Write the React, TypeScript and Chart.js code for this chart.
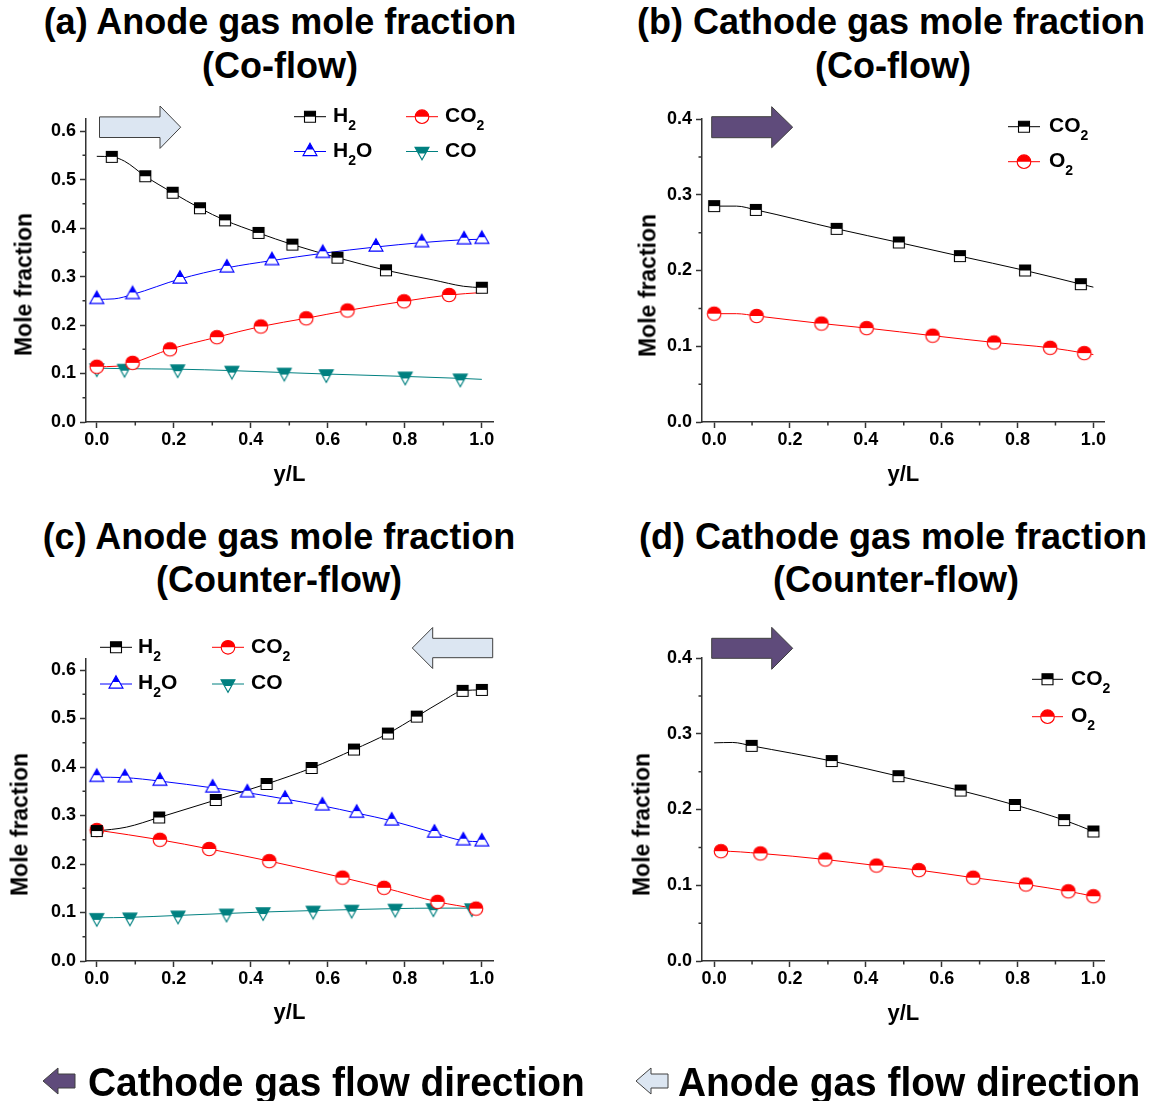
import React, { useEffect, useRef } from 'react';
import { Chart, registerables } from 'chart.js';

Chart.register(...registerables);

type Pt = [number, number];
type Shape = 'square' | 'circle' | 'triUp' | 'triDown';

const FONT = '"Liberation Sans", Arial, Helvetica, sans-serif';
const AXIS = '#333333';

// ---------- tick values ----------
const xTickValues = [0, 0.2, 0.4, 0.6, 0.8, 1.0];
const xMinorValues = [0.1, 0.3, 0.5, 0.7, 0.9];
const anodeYTickValues = [0, 0.1, 0.2, 0.3, 0.4, 0.5, 0.6];
const anodeYMinorValues = [0.05, 0.15, 0.25, 0.35, 0.45, 0.55];
const cathodeYTickValues = [0, 0.1, 0.2, 0.3, 0.4];
const cathodeYMinorValues = [0.05, 0.15, 0.25, 0.35];

// ---------- (a) anode, co-flow ----------
const coAnodeH2Marks: Pt[] = [[0.039, 0.547], [0.126, 0.507], [0.197, 0.473], [0.268, 0.441], [0.333, 0.416], [0.42, 0.39], [0.508, 0.366], [0.625, 0.339], [0.751, 0.313], [1.0, 0.277]];
const coAnodeH2Extra: Pt[] = [[0, 0.548], [0.072, 0.538], [0.874, 0.293], [0.952, 0.28]];
const coAnodeH2OMarks: Pt[] = [[0, 0.253], [0.093, 0.263], [0.216, 0.295], [0.338, 0.318], [0.455, 0.333], [0.587, 0.348], [0.725, 0.361], [0.844, 0.37], [0.954, 0.376], [1.0, 0.377]];
const coAnodeH2OExtra: Pt[] = [[0.045, 0.254]];
const coAnodeCO2Marks: Pt[] = [[0, 0.114], [0.093, 0.122], [0.19, 0.15], [0.312, 0.175], [0.426, 0.197], [0.544, 0.214], [0.651, 0.23], [0.798, 0.249], [0.915, 0.262]];
const coAnodeCO2Extra: Pt[] = [[0.05, 0.115], [1.0, 0.267]];
const coAnodeCOMarks: Pt[] = [[0, 0.111], [0.072, 0.11], [0.21, 0.109], [0.351, 0.106], [0.487, 0.102], [0.596, 0.099], [0.801, 0.094], [0.944, 0.09]];
const coAnodeCOExtra: Pt[] = [[1.0, 0.088]];

// ---------- (b) cathode, co-flow ----------
const coCathodeCO2Marks: Pt[] = [[0, 0.285], [0.11, 0.28], [0.323, 0.255], [0.487, 0.237], [0.648, 0.219], [0.82, 0.2], [0.967, 0.182]];
const coCathodeCO2Extra: Pt[] = [[0.059, 0.285], [1.0, 0.178]];
const coCathodeO2Marks: Pt[] = [[0, 0.143], [0.112, 0.14], [0.283, 0.13], [0.402, 0.124], [0.576, 0.114], [0.738, 0.105], [0.886, 0.098], [0.976, 0.091]];
const coCathodeO2Extra: Pt[] = [[0.059, 0.143], [1.0, 0.089]];

// ---------- (c) anode, counter-flow ----------
const ctAnodeH2Marks: Pt[] = [[0, 0.268], [0.162, 0.296], [0.309, 0.332], [0.441, 0.365], [0.558, 0.398], [0.668, 0.436], [0.756, 0.469], [0.831, 0.504], [0.95, 0.557], [1.0, 0.559]];
const ctAnodeH2Extra: Pt[] = [[0.077, 0.276], [0.9, 0.537]];
const ctAnodeH2OMarks: Pt[] = [[0, 0.379], [0.073, 0.378], [0.164, 0.371], [0.301, 0.357], [0.391, 0.347], [0.489, 0.334], [0.586, 0.32], [0.675, 0.305], [0.766, 0.289], [0.877, 0.264], [0.952, 0.248], [1.0, 0.246]];
const ctAnodeH2OExtra: Pt[] = [];
const ctAnodeCO2Marks: Pt[] = [[0, 0.27], [0.164, 0.25], [0.292, 0.231], [0.448, 0.206], [0.638, 0.172], [0.746, 0.151], [0.885, 0.122], [0.985, 0.108]];
const ctAnodeCO2Extra: Pt[] = [];
const ctAnodeCOMarks: Pt[] = [[0, 0.089], [0.086, 0.09], [0.211, 0.094], [0.337, 0.098], [0.432, 0.101], [0.562, 0.104], [0.662, 0.106], [0.775, 0.108], [0.874, 0.109], [0.974, 0.109]];
const ctAnodeCOExtra: Pt[] = [[1.0, 0.11]];

// ---------- (d) cathode, counter-flow ----------
const ctCathodeCO2Marks: Pt[] = [[0.099, 0.284], [0.31, 0.264], [0.486, 0.244], [0.65, 0.225], [0.793, 0.206], [0.923, 0.186], [1.0, 0.171]];
const ctCathodeCO2Extra: Pt[] = [[0, 0.288], [0.049, 0.2885]];
const ctCathodeO2Marks: Pt[] = [[0.018, 0.145], [0.122, 0.142], [0.293, 0.134], [0.428, 0.126], [0.54, 0.12], [0.683, 0.11], [0.822, 0.101], [0.934, 0.092], [1.0, 0.0855]];
const ctCathodeO2Extra: Pt[] = [[0, 0.145]];

// ---------- series styling ----------
const BLACK = '#000000';
const BLUE = '#0000ff';
const RED = '#ff0000';
const TEAL = '#008080';

interface Series { label: string; sub?: string; tail?: string; color: string; shape: Shape; marks: Pt[]; extra: Pt[]; }
interface LegendPos { s: Series; x0: number; x1: number; y: number; tx: number; }
interface PanelCfg {
  left: number; top: number; w: number; h: number;
  yW: number; padTop: number; padRight: number; xH: number;
  xMin: number; xMax: number; yMax: number;
  yTicks: number[]; yMinor: number[];
  series: Series[];
}

const aH2: Series = { label: 'H', sub: '2', color: BLACK, shape: 'square', marks: coAnodeH2Marks, extra: coAnodeH2Extra };
const aH2O: Series = { label: 'H', sub: '2', tail: 'O', color: BLUE, shape: 'triUp', marks: coAnodeH2OMarks, extra: coAnodeH2OExtra };
const aCO2: Series = { label: 'CO', sub: '2', color: RED, shape: 'circle', marks: coAnodeCO2Marks, extra: coAnodeCO2Extra };
const aCO: Series = { label: 'CO', color: TEAL, shape: 'triDown', marks: coAnodeCOMarks, extra: coAnodeCOExtra };
const bCO2: Series = { label: 'CO', sub: '2', color: BLACK, shape: 'square', marks: coCathodeCO2Marks, extra: coCathodeCO2Extra };
const bO2: Series = { label: 'O', sub: '2', color: RED, shape: 'circle', marks: coCathodeO2Marks, extra: coCathodeO2Extra };
const cH2: Series = { label: 'H', sub: '2', color: BLACK, shape: 'square', marks: ctAnodeH2Marks, extra: ctAnodeH2Extra };
const cH2O: Series = { label: 'H', sub: '2', tail: 'O', color: BLUE, shape: 'triUp', marks: ctAnodeH2OMarks, extra: ctAnodeH2OExtra };
const cCO2: Series = { label: 'CO', sub: '2', color: RED, shape: 'circle', marks: ctAnodeCO2Marks, extra: ctAnodeCO2Extra };
const cCO: Series = { label: 'CO', color: TEAL, shape: 'triDown', marks: ctAnodeCOMarks, extra: ctAnodeCOExtra };
const dCO2: Series = { label: 'CO', sub: '2', color: BLACK, shape: 'square', marks: ctCathodeCO2Marks, extra: ctCathodeCO2Extra };
const dO2: Series = { label: 'O', sub: '2', color: RED, shape: 'circle', marks: ctCathodeO2Marks, extra: ctCathodeO2Extra };

const panels: PanelCfg[] = [
  { left: 0, top: 90, w: 560, h: 400, yW: 86, padTop: 29, padRight: 67, xH: 68, xMin: -0.028, xMax: 1.029, yMax: 0.625, yTicks: anodeYTickValues, yMinor: anodeYMinorValues, series: [aH2, aH2O, aCO2, aCO] },
  { left: 620, top: 90, w: 530, h: 400, yW: 82, padTop: 29, padRight: 46, xH: 68, xMin: -0.032, xMax: 1.028, yMax: 0.4, yTicks: cathodeYTickValues, yMinor: cathodeYMinorValues, series: [bCO2, bO2] },
  { left: 0, top: 610, w: 560, h: 400, yW: 86, padTop: 49, padRight: 67, xH: 49, xMin: -0.028, xMax: 1.029, yMax: 0.6227, yTicks: anodeYTickValues, yMinor: anodeYMinorValues, series: [cH2, cH2O, cCO2, cCO] },
  { left: 620, top: 610, w: 530, h: 400, yW: 82, padTop: 48, padRight: 46, xH: 49, xMin: -0.032, xMax: 1.028, yMax: 0.4, yTicks: cathodeYTickValues, yMinor: cathodeYMinorValues, series: [dCO2, dO2] },
];

const legends: LegendPos[] = [
  { s: aH2, x0: 294, x1: 326, y: 116.7, tx: 333 },
  { s: aCO2, x0: 406, x1: 438, y: 116.7, tx: 445 },
  { s: aH2O, x0: 294, x1: 326, y: 151.5, tx: 333 },
  { s: aCO, x0: 406, x1: 438, y: 151.5, tx: 445 },
  { s: bCO2, x0: 1008, x1: 1040, y: 126.7, tx: 1049 },
  { s: bO2, x0: 1008, x1: 1040, y: 161.7, tx: 1049 },
  { s: cH2, x0: 100, x1: 132, y: 647.3, tx: 138 },
  { s: cCO2, x0: 212, x1: 244, y: 647.3, tx: 251 },
  { s: cH2O, x0: 100, x1: 132, y: 684, tx: 138 },
  { s: cCO, x0: 212, x1: 244, y: 684, tx: 251 },
  { s: dCO2, x0: 1032, x1: 1063, y: 679.3, tx: 1071 },
  { s: dO2, x0: 1032, x1: 1063, y: 716.7, tx: 1071 },
];

// ---------- marker geometry (20x20 box, anchor at 10,10) ----------
const TRI_W = 14;
const TRI_H = 12.5;
function shapeFull(shape: Shape): Pt[] {
  if (shape === 'triUp') return [[10, 10 - (2 * TRI_H) / 3], [10 + TRI_W / 2, 10 + TRI_H / 3], [10 - TRI_W / 2, 10 + TRI_H / 3]];
  if (shape === 'triDown') return [[10 - TRI_W / 2, 10 - TRI_H / 3], [10 + TRI_W / 2, 10 - TRI_H / 3], [10, 10 + (2 * TRI_H) / 3]];
  return [[4.5, 4.5], [15.5, 4.5], [15.5, 15.5], [4.5, 15.5]];
}
function shapeHalf(shape: Shape): Pt[] {
  if (shape === 'triUp') {
    const top = 10 - (2 * TRI_H) / 3;
    const mid = top + TRI_H / 2;
    return [[10, top], [10 + TRI_W / 4, mid], [10 - TRI_W / 4, mid]];
  }
  if (shape === 'triDown') {
    const top = 10 - TRI_H / 3;
    const mid = top + TRI_H / 2;
    return [[10 - TRI_W / 2, top], [10 + TRI_W / 2, top], [10 + TRI_W / 4, mid], [10 - TRI_W / 4, mid]];
  }
  return [[4.5, 4.5], [15.5, 4.5], [15.5, 10], [4.5, 10]];
}
const CIRCLE_R = 6.8;

function markerCanvas(shape: Shape, color: string): HTMLCanvasElement {
  const c = document.createElement('canvas');
  c.width = 20;
  c.height = 20;
  const g = c.getContext('2d') as CanvasRenderingContext2D;
  g.lineWidth = 1.1;
  g.strokeStyle = color;
  const poly = (pts: Pt[]) => {
    g.beginPath();
    pts.forEach(([x, y], i) => (i ? g.lineTo(x, y) : g.moveTo(x, y)));
    g.closePath();
  };
  if (shape === 'circle') {
    g.beginPath(); g.arc(10, 10, CIRCLE_R, 0, Math.PI * 2); g.fillStyle = '#ffffff'; g.fill();
    g.beginPath(); g.arc(10, 10, CIRCLE_R, Math.PI, Math.PI * 2); g.closePath(); g.fillStyle = color; g.fill();
    g.beginPath(); g.arc(10, 10, CIRCLE_R, 0, Math.PI * 2); g.stroke();
  } else {
    poly(shapeFull(shape)); g.fillStyle = '#ffffff'; g.fill();
    poly(shapeHalf(shape)); g.fillStyle = color; g.fill();
    poly(shapeFull(shape)); g.stroke();
  }
  return c;
}

function MarkerSvg({ shape, color, cx }: { shape: Shape; color: string; cx: number }) {
  const pts = (p: Pt[]) => p.map(([x, y]) => `${x},${y}`).join(' ');
  return (
    <g transform={`translate(${cx - 10},0)`}>
      {shape === 'circle' ? (
        <>
          <circle cx={10} cy={10} r={CIRCLE_R} fill="#fff" stroke={color} strokeWidth={1.1} />
          <path d={`M ${10 - CIRCLE_R} 10 A ${CIRCLE_R} ${CIRCLE_R} 0 0 1 ${10 + CIRCLE_R} 10 Z`} fill={color} />
        </>
      ) : (
        <>
          <polygon points={pts(shapeFull(shape))} fill="#fff" stroke={color} strokeWidth={1.1} />
          <polygon points={pts(shapeHalf(shape))} fill={color} />
        </>
      )}
    </g>
  );
}

const minorTicks = (xm: number[], ym: number[]) => ({
  id: 'minorTicks',
  afterDraw(chart: any) {
    const { ctx, scales } = chart;
    const x = scales.x;
    const y = scales.y;
    ctx.save();
    ctx.strokeStyle = AXIS;
    ctx.lineWidth = 1.5;
    ctx.beginPath();
    xm.forEach((v) => { const px = x.getPixelForValue(v); ctx.moveTo(px, x.top); ctx.lineTo(px, x.top + 3.5); });
    ym.forEach((v) => { const py = y.getPixelForValue(v); ctx.moveTo(y.right, py); ctx.lineTo(y.right - 3.5, py); });
    ctx.stroke();
    ctx.restore();
  },
});

function Panel({ cfg }: { cfg: PanelCfg }) {
  const ref = useRef<HTMLCanvasElement>(null);
  useEffect(() => {
    const canvas = ref.current;
    if (!canvas) return;
    const datasets: any[] = [];
    cfg.series.forEach((s) => {
      const curve = [...s.marks, ...s.extra].sort((a, b) => a[0] - b[0]);
      datasets.push({
        data: curve.map(([x, y]) => ({ x, y })),
        showLine: true, borderColor: s.color, borderWidth: 1, pointRadius: 0, pointHoverRadius: 0,
        cubicInterpolationMode: 'monotone', fill: false, order: 2,
      });
      const img = markerCanvas(s.shape, s.color);
      datasets.push({
        data: s.marks.map(([x, y]) => ({ x, y })),
        showLine: false, pointStyle: img, pointRadius: 6, pointHoverRadius: 6, order: 1,
      });
    });
    const tickFont = { family: FONT, size: 18, weight: 'bold' as const };
    const chart = new Chart(canvas, {
      type: 'scatter',
      data: { datasets },
      options: {
        responsive: false,
        animation: false,
        events: [],
        layout: { padding: { left: 0, top: cfg.padTop, right: cfg.padRight, bottom: 0 } },
        plugins: { legend: { display: false }, tooltip: { enabled: false } },
        scales: {
          x: {
            type: 'linear', min: cfg.xMin, max: cfg.xMax,
            afterBuildTicks: (s: any) => { s.ticks = xTickValues.map((v) => ({ value: v })); },
            afterFit: (s: any) => { s.height = cfg.xH; },
            ticks: { callback: (v: any) => Number(v).toFixed(1), font: tickFont, color: '#000', padding: 1, maxRotation: 0, autoSkip: false },
            grid: { drawOnChartArea: false, drawTicks: true, tickLength: 6, tickColor: AXIS, tickWidth: 1.5 },
            border: { display: true, color: AXIS, width: 1.5 },
          },
          y: {
            type: 'linear', position: 'left', min: 0, max: cfg.yMax,
            afterBuildTicks: (s: any) => { s.ticks = cfg.yTicks.map((v) => ({ value: v })); },
            afterFit: (s: any) => { s.width = cfg.yW; },
            ticks: { callback: (v: any) => Number(v).toFixed(1), font: tickFont, color: '#000', padding: 4, autoSkip: false },
            grid: { drawOnChartArea: false, drawTicks: true, tickLength: 6, tickColor: AXIS, tickWidth: 1.5 },
            border: { display: true, color: AXIS, width: 1.5 },
          },
        },
      } as any,
      plugins: [minorTicks(xMinorValues, cfg.yMinor)],
    });
    return () => chart.destroy();
  }, [cfg]);
  return (
    <canvas ref={ref} width={cfg.w} height={cfg.h}
      style={{ position: 'absolute', left: cfg.left, top: cfg.top, width: cfg.w, height: cfg.h }} />
  );
}

// text placed by baseline (line-height = font size)
function BaseText({ x, baseline, size, center, scaleX, children }: { x: number; baseline: number; size: number; center?: boolean; scaleX?: number; children: React.ReactNode }) {
  const top = baseline - 0.8465 * size;
  const style: React.CSSProperties = {
    position: 'absolute', top, fontSize: size, lineHeight: `${size}px`, whiteSpace: 'nowrap',
  };
  if (center) { style.left = x - 400; style.width = 800; style.textAlign = 'center'; }
  else { style.left = x; }
  if (scaleX) { style.transform = `scaleX(${scaleX})`; style.transformOrigin = 'left center'; }
  return <div style={style}>{children}</div>;
}

function YTitle({ cx, cy }: { cx: number; cy: number }) {
  return (
    <div style={{ position: 'absolute', left: cx - 100, top: cy - 11.5, width: 200, height: 23, fontSize: 23, lineHeight: '23px', textAlign: 'center', transform: 'rotate(-90deg)', whiteSpace: 'nowrap' }}>
      Mole fraction
    </div>
  );
}

function arrowRight(x0: number, x1: number, tip: number, yc: number, bh: number, hh: number) {
  return `${x0},${yc - bh} ${x1},${yc - bh} ${x1},${yc - hh} ${tip},${yc} ${x1},${yc + hh} ${x1},${yc + bh} ${x0},${yc + bh}`;
}
function arrowLeft(tip: number, x1: number, x0: number, yc: number, bh: number, hh: number) {
  return `${x0},${yc - bh} ${x1},${yc - bh} ${x1},${yc - hh} ${tip},${yc} ${x1},${yc + hh} ${x1},${yc + bh} ${x0},${yc + bh}`;
}

const LIGHT = '#dce6f2';
const PURPLE = '#5f4b7b';
const OUTLINE = '#404040';

export default function App() {
  return (
    <div style={{ position: 'absolute', left: 0, top: 0, width: 1150, height: 1101, overflow: 'hidden', background: '#ffffff', fontFamily: FONT, fontWeight: 'bold', color: '#000' }}>
      {panels.map((p, i) => <Panel key={i} cfg={p} />)}

      {/* panel titles */}
      <BaseText x={280} baseline={34} size={36} center>(a) Anode gas mole fraction</BaseText>
      <BaseText x={280} baseline={78} size={36} center>(Co-flow)</BaseText>
      <BaseText x={891} baseline={34} size={36} center>(b) Cathode gas mole fraction</BaseText>
      <BaseText x={893} baseline={78} size={36} center>(Co-flow)</BaseText>
      <BaseText x={279} baseline={549} size={36} center>(c) Anode gas mole fraction</BaseText>
      <BaseText x={279} baseline={592} size={36} center>(Counter-flow)</BaseText>
      <BaseText x={893} baseline={549} size={36} center>(d) Cathode gas mole fraction</BaseText>
      <BaseText x={896} baseline={592} size={36} center>(Counter-flow)</BaseText>

      {/* axis titles */}
      <YTitle cx={23.5} cy={284} />
      <YTitle cx={648} cy={285} />
      <YTitle cx={19.5} cy={824} />
      <YTitle cx={641.5} cy={824} />
      <BaseText x={289.5} baseline={481.7} size={22} center>y/L</BaseText>
      <BaseText x={903.3} baseline={481.7} size={22} center>y/L</BaseText>
      <BaseText x={289.5} baseline={1020} size={22} center>y/L</BaseText>
      <BaseText x={903.3} baseline={1021} size={22} center>y/L</BaseText>

      {/* legends and arrows */}
      <svg width={1150} height={1101} style={{ position: 'absolute', left: 0, top: 0, pointerEvents: 'none' }}>
        {legends.map((l, i) => (
          <g key={i} transform={`translate(0,${l.y - 10})`}>
            <line x1={l.x0} y1={10} x2={l.x1} y2={10} stroke={l.s.color} strokeWidth={1} />
            <MarkerSvg shape={l.s.shape} color={l.s.color} cx={(l.x0 + l.x1) / 2} />
          </g>
        ))}
        <polygon points={arrowRight(99.5, 160, 180.7, 127.2, 10.3, 21.2)} fill={LIGHT} stroke={OUTLINE} strokeWidth={1} />
        <polygon points={arrowRight(711.7, 771.7, 792.7, 127.2, 10.5, 20.5)} fill={PURPLE} stroke={OUTLINE} strokeWidth={1} />
        <polygon points={arrowLeft(412.3, 432.7, 492.7, 648, 9.7, 20.5)} fill={LIGHT} stroke={OUTLINE} strokeWidth={1} />
        <polygon points={arrowRight(711.7, 771.7, 792.7, 648.3, 10, 21)} fill={PURPLE} stroke={OUTLINE} strokeWidth={1} />
        <polygon points={arrowLeft(43, 58, 75, 1081, 7, 13)} fill={PURPLE} stroke={OUTLINE} strokeWidth={1} />
        <polygon points={arrowLeft(636, 651, 668, 1081, 7, 13)} fill={LIGHT} stroke={OUTLINE} strokeWidth={1} />
      </svg>
      {legends.map((l, i) => (
        <BaseText key={i} x={l.tx} baseline={l.y + 5} size={21}>
          {l.s.label}
          {l.s.sub ? <span style={{ fontSize: 14, position: 'relative', top: 8 }}>{l.s.sub}</span> : null}
          {l.s.tail ?? ''}
        </BaseText>
      ))}

      {/* bottom captions */}
      <BaseText x={88} baseline={1097} size={41} scaleX={0.948}>Cathode gas flow direction</BaseText>
      <BaseText x={678} baseline={1097} size={41} scaleX={0.948}>Anode gas flow direction</BaseText>
    </div>
  );
}
